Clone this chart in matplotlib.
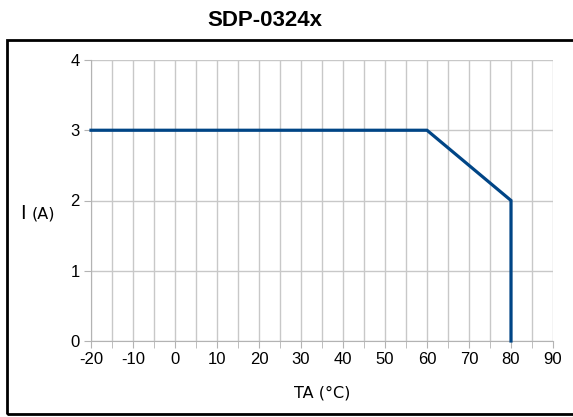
import matplotlib
matplotlib.use("Agg")
import matplotlib.pyplot as plt
from matplotlib.patches import Rectangle

plt.rcParams["axes.unicode_minus"] = False

temps = [-20, 60, 80, 80]
current = [3, 3, 2, 0]
x_ticks = list(range(-20, 91, 10))
y_ticks = [0, 1, 2, 3, 4]

fig = plt.figure(figsize=(5.73, 4.17), dpi=100)
ax = fig.add_axes([91/573, 1-341/417, (553-91)/573, (341-60)/417])

grid_c = "#c8c8c8"
ax.plot(temps, current, color="#004586", lw=2.3, solid_joinstyle="miter", zorder=3, clip_on=False)
ax.set_xlim(-20, 90)
ax.set_ylim(0, 4)
ax.set_xticks(x_ticks)
ax.set_xticks(list(range(-15, 90, 10)), minor=True)
ax.set_yticks(y_ticks)
ax.grid(True, which="both", axis="x", color=grid_c, lw=1)
ax.grid(True, which="major", axis="y", color=grid_c, lw=1)
for s in ["top", "right"]:
    ax.spines[s].set_visible(False)
for s in ["left", "bottom"]:
    ax.spines[s].set_color("#b3b3b3")
ax.tick_params(axis="both", which="both", direction="out", length=5, color="#b3b3b3",
               labelsize=12, labelcolor="black", pad=3)
for lab in ax.get_xticklabels() + ax.get_yticklabels():
    lab.set_fontfamily("Liberation Sans")
ax.set_xlabel("TA (°C)", fontsize=11.5, labelpad=13, fontfamily="DejaVu Sans")
fig.text(20/573, 1-219/417, "I", fontsize=14, va="baseline", ha="left", fontfamily="DejaVu Sans")
fig.text(32/573, 1-219/417, "(A)", fontsize=11.5, va="baseline", ha="left", fontfamily="DejaVu Sans")
fig.text(265/573, 1-20/417, "SDP-0324x", fontsize=16, fontweight="bold", ha="center", va="center",
         fontfamily="Liberation Sans")

fig.patches.append(Rectangle((7/573, 1-414/417), 1, (414-40)/417, transform=fig.transFigure,
                             fill=False, edgecolor="black", lw=2))
fig.savefig("out.png", dpi=100)
